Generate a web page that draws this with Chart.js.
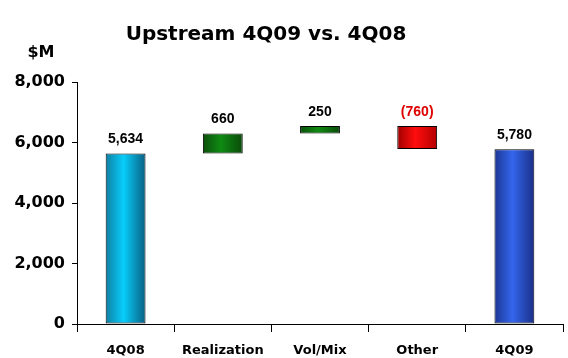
<!DOCTYPE html>
<html>
<head>
<meta charset="utf-8">
<script src="https://cdn.jsdelivr.net/npm/chart.js@4"></script>
<style>
  html, body { margin: 0; padding: 0; background: #fff; }
  #wrap { width: 568px; height: 358px; }
</style>
</head>
<body>
<div id="wrap"><canvas id="chart"></canvas></div>
<script>
//DATA
const categories = ["4Q08", "Realization", "Vol/Mix", "Other", "4Q09"];
const changes = [5634, 660, 250, -760, 5780]; // first and last are totals
const isTotal = [true, false, false, false, true];
const valueLabels = ["5,634", "660", "250", "(760)", "5,780"];
const yTicks = [0, 2000, 4000, 6000, 8000];

// bar colours: [edge, centre, other edge]
const barColors = [
  ["#0f7fa3", "#08cdfa", "#0a5f82"],
  ["#0b4f0b", "#0f8a12", "#0a4a0a"],
  ["#a00000", "#ff0d0d", "#b30000"],
  ["#1c3694", "#3466ec", "#1a2f88"],
];
const colorIndex = [0, 1, 1, 2, 3];
const labelColors = ["#000", "#000", "#000", "#e00000", "#000"];

// build floating [start, end] ranges for the waterfall
const ranges = [];
let running = 0;
for (let i = 0; i < changes.length; i++) {
  if (isTotal[i]) {
    ranges.push([0, changes[i]]);
    running = changes[i];
  } else {
    ranges.push([running, running + changes[i]]);
    running += changes[i];
  }
}

const BAR_PCT = 0.41;

function barGradient(ctx) {
  const chart = ctx.chart;
  const i = ctx.dataIndex;
  const c = barColors[colorIndex[i]];
  const xs = chart.scales.x;
  if (!xs || !chart.chartArea) return c[1];
  const x = xs.getPixelForValue(i);
  const half = (xs.width / categories.length) * BAR_PCT / 2;
  const g = chart.ctx.createLinearGradient(x - half, 0, x + half, 0);
  g.addColorStop(0, c[0]);
  g.addColorStop(0.45, c[1]);
  g.addColorStop(1, c[2]);
  return g;
}

// title, unit and value labels
const extras = {
  id: "extras",
  afterDraw(chart) {
    const ctx = chart.ctx;
    ctx.save();
    ctx.fillStyle = "#000";
    ctx.textAlign = "center";
    ctx.textBaseline = "middle";
    ctx.font = "bold 20px 'DejaVu Sans'";
    ctx.fillText("Upstream 4Q09 vs. 4Q08", 266, 35);
    ctx.font = "bold 16px 'DejaVu Sans'";
    ctx.fillText("$M", 41, 53);

    const meta = chart.getDatasetMeta(0);
    ctx.font = "bold 14px 'Liberation Sans'";
    meta.data.forEach((bar, i) => {
      const top = Math.min(bar.y, bar.base);
      ctx.fillStyle = labelColors[i];
      ctx.fillText(valueLabels[i], bar.x, top - 14);
    });
    ctx.restore();
  },
};

const chart = new Chart(document.getElementById("chart"), {
  type: "bar",
  data: {
    labels: categories,
    datasets: [
      {
        data: ranges,
        backgroundColor: barGradient,
        borderColor: "#000",
        borderWidth: 1,
        borderSkipped: false,
        categoryPercentage: 1,
        barPercentage: BAR_PCT,
      },
    ],
  },
  options: {
    responsive: true,
    maintainAspectRatio: false,
    animation: false,
    layout: { padding: { top: 82, right: 5, left: 0, bottom: 0 } },
    plugins: {
      legend: { display: false },
      tooltip: { enabled: false },
    },
    scales: {
      x: {
        grid: {
          offset: true,
          drawOnChartArea: false,
          drawTicks: true,
          tickLength: 8,
          color: "#000",
        },
        border: { color: "#000", width: 1 },
        ticks: {
          color: "#000",
          font: { family: "DejaVu Sans", size: 13, weight: "bold" },
          padding: 11,
          maxRotation: 0,
        },
        afterFit(scale) {
          scale.height = 34;
        },
      },
      y: {
        min: 0,
        max: 8000,
        afterBuildTicks(scale) {
          scale.ticks = yTicks.map((v) => ({ value: v }));
        },
        grid: {
          drawOnChartArea: false,
          drawTicks: true,
          tickLength: 5,
          color: "#000",
        },
        border: { color: "#000", width: 1 },
        ticks: {
          color: "#000",
          padding: 7,
          font: { family: "DejaVu Sans", size: 16, weight: "bold" },
          callback: (v) => v.toLocaleString("en-US"),
        },
        afterFit(scale) {
          scale.width = 77;
        },
      },
    },
  },
  plugins: [extras],
});
</script>
</body>
</html>
